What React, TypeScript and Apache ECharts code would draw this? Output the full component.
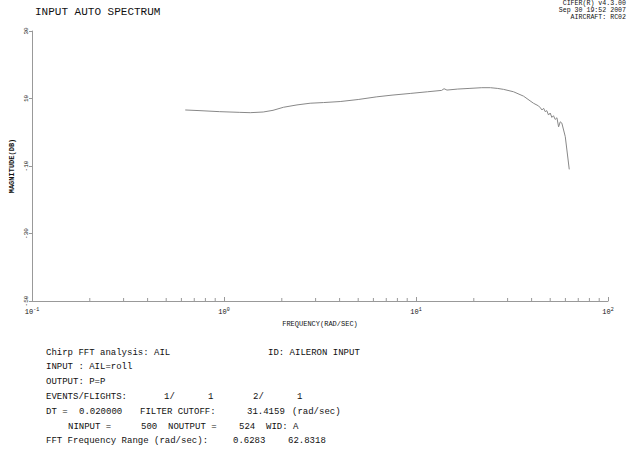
import React, { useEffect, useRef } from "react";
import * as echarts from "echarts";

const freqs = [0.6283, 0.75, 0.95, 1.2, 1.37, 1.6, 1.8, 2.04, 2.4, 2.81, 3.3, 4.03, 5.0, 6.25, 7.5, 9.33, 11.5, 13.6, 14.0, 14.5, 16.5, 19.1, 22.0, 24.4, 26.5, 28.6, 32.2, 36.3, 40.9, 43.5, 44.5, 45.3, 46.2, 47.1, 48.0, 49.0, 50.0, 51.0, 52.0, 53.1, 54.2, 55.3, 56.4, 57.5, 59.9, 62.8318];
const magnitudes = [6.6, 6.4, 6.1, 5.9, 5.8, 6.0, 6.5, 7.4, 8.1, 8.6, 8.8, 9.1, 9.7, 10.5, 11.0, 11.5, 12.0, 12.4, 12.9, 12.5, 12.8, 13.0, 13.2, 13.2, 13.0, 12.7, 12.0, 10.7, 8.6, 7.8, 7.2, 6.6, 7.1, 6.1, 6.4, 5.1, 5.7, 4.4, 4.9, 3.8, 4.3, 1.6, 3.1, 2.7, -1.3, -11];
const minorTicks = [0.2, 0.3, 0.4, 0.5, 0.6, 0.7, 0.8, 0.9, 2, 3, 4, 5, 6, 7, 8, 9, 20, 30, 40, 50, 60, 70, 80, 90];
const yMin = -50;
const yMax = 30;
const yStep = 20;

const headerLines = ["CIFER(R) v4.3.00", "Sep 30 19:52 2007", "AIRCRAFT: RC02"];
const infoTexts: [string, number, number][] = [
  ["Chirp FFT analysis: AIL", 46, 0],
  ["ID: AILERON INPUT", 268, 0],
  ["INPUT : AIL=roll", 46, 1],
  ["OUTPUT: P=P", 46, 2],
  ["EVENTS/FLIGHTS:", 46, 3],
  ["1/", 164, 3],
  ["1", 208, 3],
  ["2/", 253, 3],
  ["1", 297, 3],
  ["DT =", 46, 4],
  ["0.020000", 79, 4],
  ["FILTER CUTOFF:", 140, 4],
  ["31.4159", 247, 4],
  ["(rad/sec)", 292, 4],
  ["NINPUT =", 68, 5],
  ["500", 141, 5],
  ["NOUTPUT =", 168, 5],
  ["524", 239, 5],
  ["WID: A", 266, 5],
  ["FFT Frequency Range (rad/sec):", 46, 6],
  ["0.6283", 233, 6],
  ["62.8318", 288, 6],
];

const MONO = "'Liberation Mono', 'DejaVu Sans Mono', monospace";

export default function App() {
  const ref = useRef<HTMLDivElement>(null);
  useEffect(() => {
    if (!ref.current) return;
    const chart = echarts.init(ref.current, undefined, { renderer: "svg" });
    const graphics: any[] = [
      {
        type: "text",
        left: 35,
        top: 6,
        style: { text: "INPUT AUTO SPECTRUM", font: `11px ${MONO}`, fill: "#111" },
      },
      ...headerLines.map((t, i) => ({
        type: "text",
        right: 10,
        top: 0 + i * 7,
        style: { text: t, font: `6.6px ${MONO}`, fill: "#111", align: "right" },
      })),
      ...infoTexts.map(([t, x, row]) => ({
        type: "text",
        left: x,
        top: 348 + row * 14.8,
        style: { text: t, font: `9px ${MONO}`, fill: "#111" },
      })),
    ];
    chart.setOption({
      animation: false,
      backgroundColor: "#fff",
      grid: { left: 32, right: 28, top: 31, bottom: 149, containLabel: false },
      xAxis: {
        type: "log",
        logBase: 10,
        min: 0.1,
        max: 100,
        name: "FREQUENCY(RAD/SEC)",
        nameLocation: "middle",
        nameGap: 17,
        nameTextStyle: { fontFamily: MONO, fontSize: 7, color: "#111" },
        axisLine: { show: true, onZero: false, lineStyle: { color: "#999", width: 1 } },
        axisTick: { show: true, inside: true, length: 4, lineStyle: { color: "#999" } },
        splitLine: { show: false },
        minorTick: { show: false },
        axisLabel: {
          margin: 6,
          formatter: (v: number) => `{b|10}{s|${Math.round(Math.log10(v))}}`,
          rich: {
            b: { fontFamily: MONO, fontSize: 7, color: "#111", lineHeight: 10 },
            s: { fontFamily: MONO, fontSize: 5, color: "#111", verticalAlign: "top", lineHeight: 6 },
          },
        },
      },
      yAxis: {
        type: "value",
        min: yMin,
        max: yMax,
        interval: yStep,
        name: "MAGNITUDE(DB)",
        nameLocation: "middle",
        nameGap: 13,
        nameTextStyle: { fontFamily: MONO, fontSize: 7, color: "#111", fontWeight: "bold" },
        axisLine: { show: true, onZero: false, lineStyle: { color: "#999", width: 1 } },
        axisTick: { show: true, inside: false, length: 3, lineStyle: { color: "#999" } },
        splitLine: { show: false },
        axisLabel: {
          rotate: 90,
          margin: 3,
          fontFamily: MONO,
          fontSize: 6,
          color: "#111",
        },
      },
      graphic: graphics,
      series: [
        {
          type: "line",
          data: freqs.map((f, i) => [f, magnitudes[i]]),
          showSymbol: false,
          symbol: "none",
          lineStyle: { color: "#888", width: 1 },
          silent: true,
        },
        {
          type: "custom",
          data: minorTicks.map((f) => [f, yMin]),
          renderItem: (params: any, api: any) => {
            const p = api.coord([api.value(0), api.value(1)]);
            return {
              type: "line",
              shape: { x1: p[0], y1: p[1], x2: p[0], y2: p[1] - 3 },
              style: { stroke: "#999", lineWidth: 1 },
            };
          },
          silent: true,
        },
      ],
    });
    return () => chart.dispose();
  }, []);
  return (
    <div
      ref={ref}
      style={{ position: "fixed", left: 0, top: 0, width: 636, height: 450 }}
    />
  );
}
